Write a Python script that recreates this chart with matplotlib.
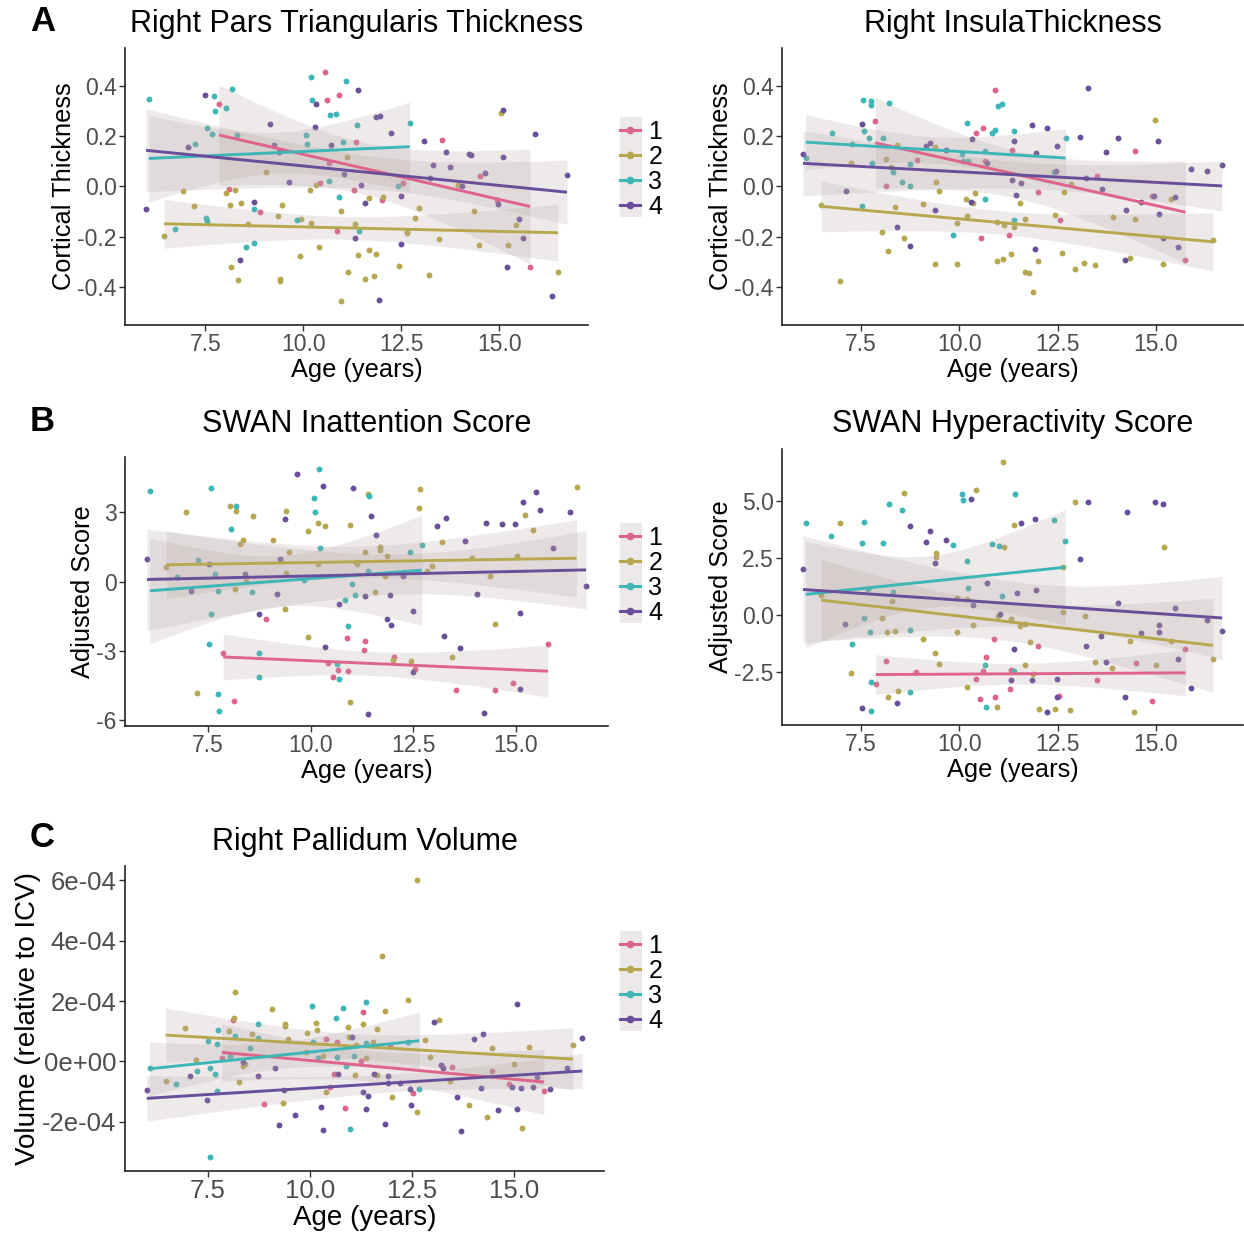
import numpy as np
import matplotlib
matplotlib.use("Agg")
import matplotlib.pyplot as plt
from matplotlib.lines import Line2D
from matplotlib.patches import Rectangle

# ---------------- data ----------------
GROUPS = ["1", "2", "3", "4"]
COLORS = ["#DE648C", "#B7A850", "#3CB6B6", "#694E9B"]

# Panel A (left): Right Pars Triangularis Thickness
pt_age_g1 = [7.85, 10.54, 10.60, 10.90, 8.11, 8.89, 10.43, 10.66, 11.33, 11.28, 12.0, 10.87, 12.55, 13.53, 14.50, 14.94, 15.78]
pt_val_g1 = [0.329, 0.456, 0.343, 0.364, -0.012, -0.102, 0.015, 0.091, 0.176, -0.015, -0.054, -0.179, 0.012, 0.184, 0.041, -0.054, -0.322]
pt_age_g2 = [6.45, 6.94, 7.21, 8.03, 8.14, 8.27, 8.41, 8.16, 8.33, 8.59, 9.06, 9.36, 9.40, 9.40, 9.46, 9.93, 9.92, 10.17, 10.19, 10.33,
             10.40, 10.95, 10.95, 11.11, 11.13, 11.31, 11.39, 11.56, 11.67, 11.68, 11.79, 11.86, 12.02, 12.45, 12.64, 12.65, 12.84, 12.95,
             13.20, 13.47, 13.93, 14.36, 14.48, 15.03, 15.22, 15.41, 16.49]
pt_val_g2 = [-0.197, -0.02, -0.077, -0.028, -0.073, -0.015, -0.066, -0.319, -0.372, -0.151, 0.058, -0.117, -0.368, -0.376, -0.073, -0.13,
             -0.276, -0.016, -0.144, 0.005, -0.239, -0.098, -0.455, 0.115, -0.339, -0.148, -0.274, -0.37, -0.253, -0.046, -0.358, -0.268,
             -0.041, -0.317, -0.187, -0.18, -0.125, -0.087, -0.354, -0.211, 0.007, -0.098, -0.232, 0.292, -0.235, -0.152, -0.341]
pt_age_g3 = [6.06, 7.73, 8.18, 7.75, 8.04, 7.54, 7.66, 8.30, 7.24, 6.73, 7.51, 7.55, 8.54, 8.73, 8.73, 10.20, 10.22, 10.67, 10.82, 11.09,
             10.07, 10.09, 11.0, 11.38, 10.65, 10.90, 9.84, 11.41, 12.41, 12.71]
pt_val_g3 = [0.349, 0.36, 0.388, 0.298, 0.313, 0.232, 0.209, 0.205, 0.168, -0.171, -0.127, -0.137, -0.241, -0.224, -0.09, 0.433, 0.345,
             0.285, 0.288, 0.419, 0.205, 0.17, 0.175, 0.243, 0.02, -0.042, -0.134, -0.176, 0.003, 0.252]
pt_age_g4 = [5.99, 7.49, 7.07, 9.15, 9.24, 9.37, 9.64, 8.73, 8.39, 10.33, 10.29, 10.70, 11.04, 11.39, 11.46, 11.57, 11.32, 11.85, 11.95,
             12.23, 12.49, 12.48, 13.07, 13.30, 13.63, 13.74, 14.23, 14.27, 14.05, 14.64, 14.97, 15.09, 15.10, 15.51, 15.59, 15.19, 15.91,
             16.33, 16.72, 11.92, 13.23]
pt_val_g4 = [-0.089, 0.364, 0.158, 0.247, 0.166, 0.135, 0.017, -0.062, -0.292, 0.327, 0.236, 0.163, 0.048, 0.383, 0.007, -0.065, -0.204,
             0.274, 0.28, 0.212, -0.038, -0.228, 0.182, 0.083, 0.137, 0.077, 0.127, 0.125, 0.001, 0.054, -0.069, 0.304, 0.118, -0.129,
             -0.205, -0.321, 0.209, -0.436, 0.044, -0.452, 0.032]

# Panel A (right): Right Insula Thickness
ins_age_g1 = [7.86, 8.14, 8.91, 10.43, 10.60, 10.90, 10.66, 11.33, 12.0, 11.27, 10.54, 12.55, 13.51, 14.47, 14.90, 15.75]
ins_val_g1 = [0.26, 0.003, 0.105, 0.212, 0.232, 0.385, 0.101, 0.146, -0.024, -0.195, -0.204, -0.134, 0.042, 0.142, -0.037, -0.291]
ins_age_g2 = [6.48, 6.97, 7.24, 8.03, 8.14, 8.18, 8.27, 8.37, 8.42, 8.60, 9.08, 9.37, 9.39, 9.41, 9.48, 9.93, 9.94, 10.17, 10.19, 10.34,
              10.40, 10.96, 10.96, 11.10, 11.14, 11.30, 11.40, 11.55, 11.67, 11.68, 11.78, 11.86, 12.0, 12.44, 12.62, 12.65, 12.83, 12.94,
              13.18, 13.45, 13.90, 14.34, 14.46, 14.98, 15.19, 15.38, 16.45]
ins_val_g2 = [-0.075, -0.376, 0.094, -0.181, 0.109, -0.256, 0.078, -0.081, 0.164, -0.204, -0.07, -0.307, 0.158, 0.019, -0.017, -0.144,
              -0.31, -0.049, -0.117, -0.068, -0.026, -0.295, -0.14, -0.289, -0.154, -0.27, -0.163, -0.065, -0.13, -0.342, -0.346, -0.419,
              -0.298, -0.113, -0.264, -0.023, 0.008, -0.328, -0.305, -0.311, -0.122, -0.285, -0.13, 0.265, -0.31, -0.05, -0.215]
ins_age_g3 = [6.75, 6.09, 7.56, 7.74, 7.74, 8.20, 7.58, 7.69, 7.26, 7.77, 8.06, 8.31, 8.55, 8.75, 8.75, 7.53, 10.20, 10.07, 10.10, 10.23,
              10.66, 10.82, 10.90, 10.99, 11.08, 11.38, 10.65, 9.83, 11.40, 12.40, 12.70]
ins_val_g3 = [0.213, 0.113, 0.342, 0.339, 0.324, 0.332, 0.22, 0.193, 0.168, 0.094, 0.192, 0.056, 0.016, 0.087, 0.0, -0.077, 0.25, 0.127,
              0.102, 0.101, 0.14, 0.211, 0.223, 0.321, 0.328, 0.22, -0.05, -0.195, -0.134, 0.057, 0.193]
ins_age_g4 = [6.02, 7.51, 7.11, 8.41, 8.75, 9.15, 9.26, 9.37, 9.65, 10.33, 10.29, 10.70, 11.39, 11.33, 11.45, 11.57, 11.85, 11.94, 12.22,
              12.49, 12.46, 11.92, 13.06, 13.23, 13.28, 13.62, 13.73, 14.03, 14.24, 14.21, 14.62, 14.95, 15.06, 15.07, 15.18, 15.48, 15.55,
              15.89, 16.30, 16.68]
ins_val_g4 = [0.128, 0.246, -0.019, -0.163, -0.237, 0.162, 0.171, -0.094, 0.146, 0.189, -0.061, 0.094, 0.179, 0.026, -0.036, 0.012, 0.244,
              0.131, 0.232, 0.16, 0.061, -0.25, 0.195, 0.032, 0.391, -0.009, 0.136, 0.193, -0.094, -0.293, -0.062, -0.037, 0.179, -0.11,
              -0.204, -0.041, -0.242, 0.069, 0.061, 0.083]

# Panel B (left): SWAN Inattention Score
ina_age_g1 = [7.87, 8.13, 8.91, 10.43, 10.54, 10.67, 10.91, 10.89, 11.29, 11.33, 12.02, 12.54, 13.53, 14.49, 14.92, 15.78]
ina_val_g1 = [-3.09, -5.14, -1.63, -3.50, -4.13, -3.82, -3.86, -2.44, -2.96, -2.54, -3.27, -3.79, -4.68, -4.67, -4.36, -2.69]
ina_age_g2 = [6.48, 6.96, 7.23, 8.04, 8.17, 8.28, 8.35, 8.15, 8.42, 8.60, 9.08, 9.40, 9.38, 9.41, 9.47, 9.94, 9.94, 10.18, 10.19, 10.35,
              10.96, 10.96, 11.11, 11.14, 11.32, 11.40, 11.56, 11.68, 11.68, 11.80, 11.87, 12.01, 12.44, 12.66, 12.63, 12.84, 12.95, 13.21,
              13.45, 13.93, 14.36, 14.48, 15.02, 15.23, 15.41, 16.48]
ina_val_g2 = [0.64, 3.01, -4.81, 3.29, 3.05, 1.65, 1.82, -0.32, 0.04, 2.83, 1.82, 0.36, -1.18, 3.05, 1.30, 2.18, -2.41, 0.79, 2.56, 2.43,
              2.47, -5.19, 0.85, 0.78, 1.30, 3.80, -0.42, 1.50, 1.36, 0.23, 1.13, -3.38, -3.41, 4.02, 3.18, 0.46, 0.69, 1.73, -3.24, 1.05,
              0.25, -1.81, 1.13, 2.88, 2.24, 4.10]
ina_age_g3 = [6.08, 7.56, 8.06, 8.19, 7.26, 6.74, 7.68, 7.73, 7.56, 7.52, 8.56, 8.75, 8.75, 7.74, 7.76, 10.20, 10.07, 10.10, 10.23, 9.84,
              11.01, 10.83, 11.09, 10.91, 10.64, 10.68, 11.39, 11.41, 12.42, 12.71]
ina_val_g3 = [3.92, 4.05, 2.28, 3.29, 0.94, 0.19, 0.32, -0.40, -1.40, -2.67, -0.45, -3.09, -4.13, -4.86, -5.59, 4.87, 3.64, 3.01, 1.46,
              0.06, -0.09, -0.77, -0.59, -1.91, -3.54, -4.19, 0.46, 3.71, 1.27, 1.60]
ina_age_g4 = [6.01, 7.09, 7.51, 8.40, 8.75, 9.17, 9.25, 9.38, 9.66, 10.30, 10.34, 10.70, 11.04, 11.33, 11.40, 11.47, 11.58, 11.86, 11.95,
              11.94, 12.24, 12.49, 12.50, 13.08, 13.24, 13.30, 13.63, 13.75, 14.05, 14.23, 14.27, 14.66, 14.98, 15.09, 15.09, 15.18, 15.50,
              15.58, 15.91, 16.33, 16.71]
ina_val_g4 = [0.97, -0.40, 0.78, 0.32, -1.40, -0.53, 0.97, 2.70, 4.65, 4.15, -2.82, -0.94, 4.06, -0.62, -5.71, 2.83, 2.01, -1.59, -1.86,
              -0.59, 0.27, -1.27, -3.92, 2.41, -2.34, 2.77, -2.86, 1.78, -0.53, -5.68, 2.56, 2.51, 2.51, -1.36, -4.62, 3.45, 3.87, 3.11,
              1.46, 3.02, -0.17]

# Panel B (right): SWAN Hyperactivity Score
hyp_age_g1 = [8.14, 7.87, 8.90, 10.43, 10.53, 10.60, 10.67, 10.88, 10.90, 11.28, 11.31, 12.0, 12.53, 13.50, 14.48, 14.89, 15.75]
hyp_val_g1 = [-2.03, -3.01, -2.49, -2.81, -3.68, -2.47, -1.83, -1.05, -3.58, -3.25, -2.43, -1.36, -3.57, -2.87, -2.12, -3.76, -1.51]
hyp_age_g2 = [6.48, 6.96, 7.24, 8.04, 8.15, 8.28, 8.36, 8.43, 8.18, 8.60, 9.08, 9.37, 9.40, 9.40, 9.48, 9.94, 9.95, 10.18, 10.20, 10.34,
              10.41, 10.97, 10.96, 11.10, 11.13, 11.31, 11.40, 11.55, 11.68, 11.68, 11.79, 11.86, 12.02, 12.43, 12.64, 12.64, 12.82, 12.93,
              13.19, 13.44, 13.89, 14.34, 14.45, 15.0, 15.20, 15.38, 16.45]
hyp_val_g2 = [0.89, 4.04, -2.54, -0.15, -0.75, 0.61, -0.69, -3.32, -3.61, 5.35, -1.05, -1.68, 2.54, 2.69, -2.15, -0.75, 0.75, 0.69, -3.14,
              -0.45, 5.48, -0.06, -4.05, 6.71, 2.95, -0.16, 3.95, -0.48, -0.39, -2.21, -1.18, -2.57, -4.11, -4.12, 2.11, 0.12, -4.18, 4.93,
              -0.07, -2.06, -2.32, -1.15, -4.27, -2.21, 2.98, -1.15, -1.94]
hyp_age_g3 = [6.09, 6.74, 7.53, 7.57, 8.06, 8.20, 8.55, 7.68, 7.57, 7.73, 7.26, 8.32, 8.75, 7.75, 7.76, 8.75, 9.84, 10.07, 10.09, 10.20,
              10.22, 10.82, 11.0, 11.41, 11.09, 10.65, 10.67, 11.39, 12.41, 12.69]
hyp_val_g3 = [4.01, 3.45, 3.16, 4.05, 3.13, 4.87, 4.59, 1.14, -0.12, -0.76, -1.27, 1.01, -0.66, -2.94, -4.20, -3.39, 3.04, 5.28, 5.03,
              2.34, 1.18, 3.11, 3.0, 5.28, 0.82, -2.18, -4.05, -2.44, 4.14, 3.25]
hyp_age_g4 = [6.02, 7.10, 7.52, 8.41, 8.75, 9.16, 9.26, 9.37, 9.66, 10.30, 10.34, 10.70, 11.04, 11.46, 11.39, 11.57, 11.32, 11.85, 11.91,
              11.94, 12.47, 12.49, 13.07, 13.28, 13.23, 13.61, 13.72, 14.03, 14.25, 14.21, 14.62, 14.97, 15.07, 15.08, 15.17, 15.48, 15.55,
              15.89, 16.30, 16.68, 12.22]
hyp_val_g4 = [2.02, -0.41, -4.06, -3.87, 3.89, 3.19, 3.65, 2.27, 3.26, 5.07, 0.45, 1.40, 0.04, 0.96, -1.51, 4.04, -2.85, -2.85, 4.18, 1.08,
              -2.81, -3.60, 2.46, 4.96, -1.37, -0.92, -2.06, 0.54, 4.52, -3.58, -0.80, 4.96, -0.45, -0.75, 4.84, 0.32, -1.94, -3.19, -0.23,
              -0.69, -4.25]

# Panel C: Right Pallidum Volume (values in units of 1e-04)
PAL_UNIT = 1e-4
pal_age_g1 = [8.11, 7.84, 8.87, 10.40, 10.58, 10.65, 10.50, 10.85, 11.30, 11.26, 11.97, 12.52, 13.49, 14.46, 14.88, 15.73]
pal_val_g1 = [1.39, 0.13, -1.40, 0.74, -0.40, 0.63, -0.84, -1.53, 1.65, 0.02, 0.51, -1.06, -0.17, -0.32, -0.76, -0.97]
pal_age_g2 = [6.46, 6.94, 7.21, 8.02, 8.13, 8.16, 8.26, 8.35, 8.40, 8.59, 9.06, 9.35, 9.38, 9.38, 9.45, 9.92, 9.91, 10.14, 10.17, 10.32,
              10.38, 10.94, 10.96, 11.09, 11.12, 11.29, 11.38, 11.54, 11.65, 11.65, 11.77, 11.84, 12.0, 12.41, 12.61, 12.63, 12.81, 12.93,
              13.17, 13.44, 13.89, 14.33, 14.45, 14.99, 15.19, 15.37, 16.44]
pal_val_g2 = [-0.64, 1.12, 0.04, 1.01, 1.45, 2.30, -0.69, -0.14, -0.07, 0.92, 1.74, -1.37, 1.24, 1.18, 0.76, 0.95, 0.30, 1.29, 1.05, 0.18,
              -1.02, 1.13, 0.80, -0.46, 0.56, 1.23, 0.11, 0.64, -0.46, 1.08, 3.48, 1.68, -1.18, 2.04, 6.02, -1.68, 0.70, 0.15, 1.38, -0.64,
              -1.44, -1.83, 0.45, -0.07, -2.20, 0.48, 0.55]
pal_age_g3 = [6.07, 6.72, 7.24, 7.50, 7.54, 7.67, 7.73, 7.74, 7.71, 8.04, 8.17, 8.54, 8.72, 8.73, 7.54, 10.05, 10.08, 10.63, 10.81, 10.65,
              10.89, 11.07, 11.38, 11.37, 10.99, 12.39, 12.68, 10.20]
pal_val_g3 = [-0.20, -0.75, -0.33, 0.67, -0.23, -0.42, 0.58, 1.03, -0.98, 0.18, 0.83, 0.46, 1.24, 0.79, -3.17, 1.83, 0.63, 1.43, 1.78,
              0.15, -0.14, 0.18, 1.97, 0.60, -2.25, 0.65, -0.90, 0.13]
pal_age_g4 = [6.0, 7.07, 7.48, 8.37, 8.73, 9.14, 9.24, 9.36, 9.63, 10.27, 10.31, 10.68, 11.02, 11.30, 11.43, 11.38, 11.56, 11.84, 11.92,
              11.91, 12.21, 12.46, 12.47, 13.04, 13.22, 13.26, 13.60, 13.71, 14.02, 14.24, 14.20, 14.61, 14.95, 15.06, 15.06, 15.16, 15.47,
              15.55, 15.88, 16.30, 16.67]
pal_val_g4 = [-0.95, -0.48, -1.28, -0.01, -0.49, -0.23, -2.11, -0.95, -1.77, -1.50, -2.28, -0.41, 0.82, -1.0, -1.16, -1.58, -0.41, -2.06,
              -0.49, -0.71, -0.71, -0.90, -1.43, 1.32, -0.13, -0.22, -1.18, -2.31, 0.73, 0.92, -0.88, -1.62, -0.83, 1.92, -1.58, -0.88,
              -0.86, -0.51, -0.91, -0.22, 0.77]

XTICKS = [7.5, 10.0, 12.5, 15.0]
PT_YTICKS = [-0.4, -0.2, 0.0, 0.2, 0.4]
INA_YTICKS = [-6, -3, 0, 3]
HYP_YTICKS = [-2.5, 0.0, 2.5, 5.0]
PAL_YTICKS = [-2e-4, 0.0, 2e-4, 4e-4, 6e-4]

# ---------------- style ----------------
plt.rcParams["font.family"] = ["Liberation Sans", "DejaVu Sans"]
plt.rcParams["axes.unicode_minus"] = False

W, H = 1244, 1234
fig = plt.figure(figsize=(W / 100, H / 100), dpi=100)

RIBBON = "#B3A3A3"


def px_axes(l, t, r, b):
    return fig.add_axes([l / W, 1 - b / H, (r - l) / W, (b - t) / H])


def tcrit(df):
    z = 1.959964
    return z + (z ** 3 + z) / (4 * df) + (5 * z ** 5 + 16 * z ** 3 + 3 * z) / (96 * df ** 2)


def expand(lo, hi, f=0.05):
    d = (hi - lo) * f
    return lo - d, hi + d


def panel(ax, ages, vals, ytick_vals, yfmt, ylabel, tick_fs, lab_fs, ylim=None):
    all_lo, all_hi = [], []
    for a, v, c in zip(ages, vals, COLORS):
        ax.scatter(a, v, s=18, color=c, linewidths=0, zorder=2)
    for a, v, c in zip(ages, vals, COLORS):
        a = np.asarray(a, float)
        v = np.asarray(v, float)
        n = len(a)
        b1, b0 = np.polyfit(a, v, 1)
        res = v - (b0 + b1 * a)
        s = np.sqrt(np.sum(res ** 2) / (n - 2))
        xg = np.linspace(a.min(), a.max(), 80)
        yg = b0 + b1 * xg
        se = s * np.sqrt(1.0 / n + (xg - a.mean()) ** 2 / np.sum((a - a.mean()) ** 2))
        tq = tcrit(n - 2)
        lo, hi = yg - tq * se, yg + tq * se
        all_lo.append(min(lo.min(), v.min()))
        all_hi.append(max(hi.max(), v.max()))
        ax.fill_between(xg, lo, hi, color=RIBBON, alpha=0.22, linewidth=0, zorder=3)
        ax.plot(xg, yg, color=c, lw=2.1, zorder=4, solid_capstyle="butt")
    xmin = min(min(a) for a in ages)
    xmax = max(max(a) for a in ages)
    ax.set_xlim(*expand(xmin, xmax))
    if ylim is None:
        ylim = expand(min(all_lo), max(all_hi))
    ax.set_ylim(*ylim)
    ax.set_xticks(XTICKS)
    ax.set_xticklabels(["%.1f" % x for x in XTICKS])
    ax.set_yticks(ytick_vals)
    ax.set_yticklabels([yfmt(y) for y in ytick_vals])
    for sp in ["top", "right"]:
        ax.spines[sp].set_visible(False)
    for sp in ["left", "bottom"]:
        ax.spines[sp].set_linewidth(1.2)
        ax.spines[sp].set_color("#222222")
    ax.tick_params(direction="out", length=4, width=1, color="#333333",
                   labelsize=tick_fs, labelcolor="#4D4D4D", pad=2)
    ax.set_xlabel("Age (years)", fontsize=lab_fs, labelpad=1)
    ax.set_ylabel(ylabel, fontsize=lab_fs, labelpad=1)
    ax.set_facecolor("white")


def add_legend(top_px):
    handles = [Line2D([0], [0], color=c, lw=2.2, marker="o", markersize=4.5) for c in COLORS]
    fig.patches.append(Rectangle((620 / W, 1 - (top_px + 100) / H), 22 / W, 100 / H,
                                 transform=fig.transFigure, facecolor="#EEE9E9",
                                 edgecolor="none", zorder=1))
    fig.legend(handles, GROUPS, loc="upper left", bbox_to_anchor=(620 / W, 1 - (top_px + 3) / H),
               frameon=False, fontsize=18, handlelength=0.8, handletextpad=0.33,
               labelspacing=0.04, borderpad=0, borderaxespad=0)


TITLE_FS = 22
f1 = lambda y: "%.1f" % y
f0 = lambda y: "%d" % y
fe = lambda y: "%.0e" % y

# Row A
axA1 = px_axes(125, 48, 588, 325)
panel(axA1, [pt_age_g1, pt_age_g2, pt_age_g3, pt_age_g4], [pt_val_g1, pt_val_g2, pt_val_g3, pt_val_g4],
      PT_YTICKS, f1, "Cortical Thickness", 16.5, 18.3, ylim=(-0.551, 0.55))
axA2 = px_axes(782, 48, 1243, 325)
panel(axA2, [ins_age_g1, ins_age_g2, ins_age_g3, ins_age_g4], [ins_val_g1, ins_val_g2, ins_val_g3, ins_val_g4],
      PT_YTICKS, f1, "Cortical Thickness", 16.5, 18.3, ylim=(-0.551, 0.55))
add_legend(117)

# Row B
axB1 = px_axes(125, 457, 608, 726)
panel(axB1, [ina_age_g1, ina_age_g2, ina_age_g3, ina_age_g4], [ina_val_g1, ina_val_g2, ina_val_g3, ina_val_g4],
      INA_YTICKS, f0, "Adjusted Score", 16.5, 18.3)
axB2 = px_axes(782, 449, 1243, 725)
panel(axB2, [hyp_age_g1, hyp_age_g2, hyp_age_g3, hyp_age_g4], [hyp_val_g1, hyp_val_g2, hyp_val_g3, hyp_val_g4],
      HYP_YTICKS, f1, "Adjusted Score", 16.5, 18.3)
add_legend(523)

# Row C
pal_vals = [[v * PAL_UNIT for v in g] for g in (pal_val_g1, pal_val_g2, pal_val_g3, pal_val_g4)]
axC = px_axes(125, 866, 604, 1171)
panel(axC, [pal_age_g1, pal_age_g2, pal_age_g3, pal_age_g4], pal_vals,
      PAL_YTICKS, fe, "Volume (relative to ICV)", 18.5, 20)
add_legend(931)

# Titles
def title(ax, text, base_px):
    bb = ax.get_position()
    fig.text((bb.x0 + bb.x1) / 2, 1 - base_px / H, text, ha="center", va="baseline", fontsize=TITLE_FS)

title(axA1, "Right Pars Triangularis Thickness", 32)
title(axA2, "Right InsulaThickness", 32)
title(axB1, "SWAN Inattention Score", 432)
title(axB2, "SWAN Hyperactivity Score", 432)
title(axC, "Right Pallidum Volume", 850)

for lab, yb in (("A", 31), ("B", 431), ("C", 847)):
    fig.text(30 / W, 1 - yb / H, lab, fontsize=25, fontweight="bold", va="baseline", ha="left")

fig.savefig("out.png", dpi=100, facecolor="white")
